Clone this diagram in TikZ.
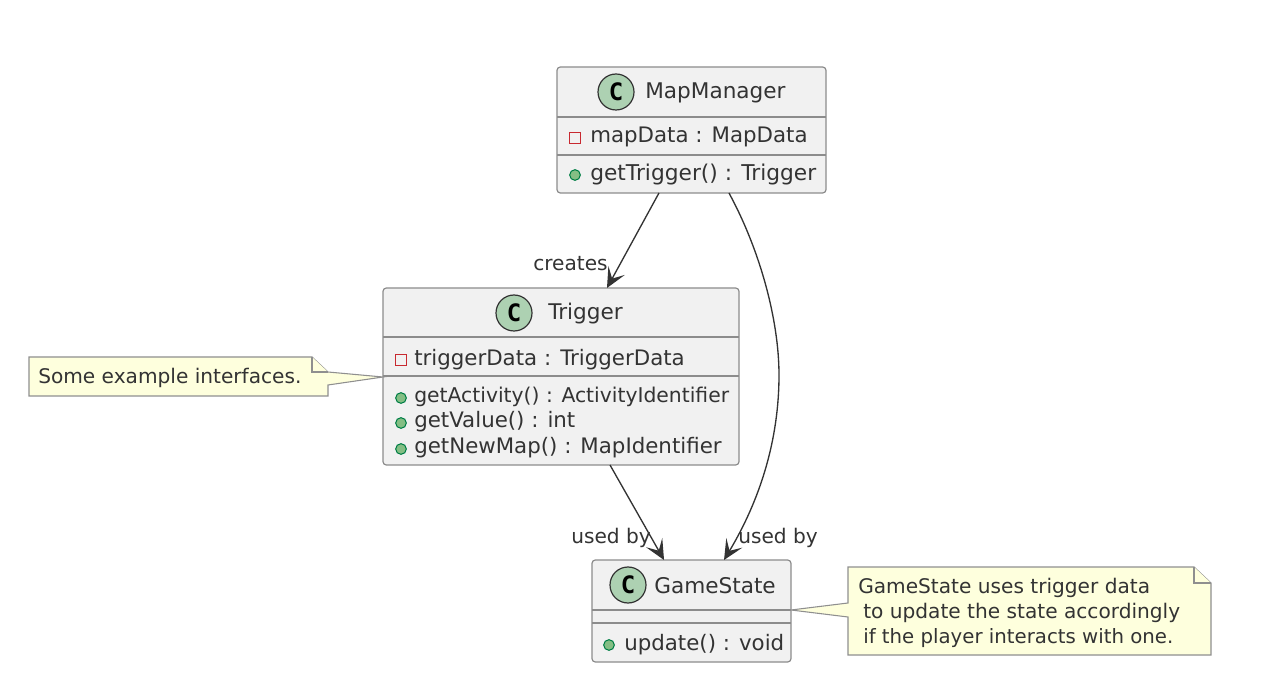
\documentclass[tikz,border=0pt]{standalone}
\usepackage{fontspec}
\setmainfont{DejaVu Sans}
\newfontfamily\spotfont{DejaVu Sans Mono}
\usetikzlibrary{arrows.meta,fit}
\definecolor{boxfill}{HTML}{F1F1F1}
\definecolor{boxline}{HTML}{8C8C8C}
\definecolor{notefill}{HTML}{FEFFDD}
\definecolor{noteline}{HTML}{8F8F8F}
\definecolor{inktext}{HTML}{333333}
\definecolor{spotfill}{HTML}{ADD1B2}
\definecolor{privred}{HTML}{C82930}
\definecolor{pubfill}{HTML}{84BE84}
\definecolor{publine}{HTML}{038048}
\tikzset{
  x=0.75pt,y=-0.75pt,
  classbox/.style={draw=boxline,fill=boxfill,line width=0.9pt,rounded corners=2.5pt,inner sep=0pt,outer sep=0pt},
  compart/.style={draw=boxline,line width=0.9pt},
  spot/.style={circle,draw=inktext,fill=spotfill,line width=0.9pt,minimum size=27pt,inner sep=0pt,font=\fontsize{18}{18}\spotfont\bfseries\selectfont,text=black},
  title/.style={anchor=base west,inner sep=0pt,font=\fontsize{16.2}{16.2}\selectfont,text=inktext},
  member/.style={anchor=base west,inner sep=0pt,font=\fontsize{16}{16}\selectfont,text=inktext},
  narrowmember/.style={member,font=\fontsize{15.25}{15.25}\selectfont},
  notetext/.style={anchor=base west,inner sep=0pt,font=\fontsize{15.1}{15.1}\selectfont,text=inktext},
  edgelabel/.style={anchor=base west,inner sep=0pt,font=\fontsize{15.1}{15.1}\selectfont,text=inktext},
  privmark/.style={draw=privred,line width=1pt,minimum size=8pt,inner sep=0pt},
  pubmark/.style={circle,draw=publine,fill=pubfill,line width=0.8pt,minimum size=8pt,inner sep=0pt},
  notebody/.style={draw=noteline,fill=notefill,line width=0.8pt,line join=miter},
  link/.style={draw=inktext,line width=1pt,-{Stealth[length=15pt,width=14pt,inset=7pt]}},
}
\begin{document}
\begin{tikzpicture}
\useasboundingbox (0,0) rectangle (1268,673);

% MapManager
\node[classbox,fit={(557,67)(826,193)}] (mm) {};
\draw[compart] (557,117) -- (826,117) (557,155) -- (826,155);
\node[spot] (mmspot) at (616,92) {C};
\node[title] (mmtitle) at (645,99) {MapManager};
\node[privmark] (mmp1) at (575,138) {};
\node[member] (mmf1) at (590,143) {mapData : MapData};
\node[pubmark] (mmp2) at (575,175) {};
\node[member,font=\fontsize{16.3}{16.3}\selectfont] (mmm1) at (590,181) {getTrigger() : Trigger};

% Trigger
\node[classbox,fit={(383,288)(739,465)}] (tr) {};
\draw[compart] (383,337) -- (739,337) (383,376) -- (739,376);
\node[spot] (trspot) at (514,313) {C};
\node[title] (trtitle) at (548,320) {Trigger};
\node[privmark] (trp1) at (401,360) {};
\node[member] (trf1) at (414,366) {triggerData : TriggerData};
\node[pubmark] (trp2) at (401,398) {};
\node[narrowmember] (trm1) at (414,403) {getActivity() : ActivityIdentifier};
\node[pubmark] (trp3) at (401,423) {};
\node[member] (trm2) at (414,428) {getValue() : int};
\node[pubmark] (trp4) at (401,449) {};
\node[member] (trm3) at (414,454) {getNewMap() : MapIdentifier};

% GameState
\node[classbox,fit={(592,560)(791,662)}] (gs) {};
\draw[compart] (592,610) -- (791,610) (592,623) -- (791,623);
\node[spot] (gsspot) at (628,585) {C};
\node[title] (gstitle) at (654,593) {GameState};
\node[pubmark] (gsp1) at (609,645) {};
\node[member] (gsm1) at (624,650) {update() : void};

% Note 1
\coordinate (n1tip) at (tr.west |- 0,377);
\draw[notebody] (29,357) -- (312,357) -- (328,372) -- (n1tip) -- (328,385) -- (328,396) -- (29,396) -- cycle;
\draw[notebody] (312,357) -- (312,372) -- (328,372);
\node[notetext] (n1text) at (38,384) {Some example interfaces.};

% Note 2
\coordinate (n2tip) at (gs.east |- 0,610);
\draw[notebody] (848,567) -- (1194,567) -- (1211,583) -- (1211,655) -- (848,655) -- (848,617) -- (n2tip) -- (848,603) -- cycle;
\draw[notebody] (1194,567) -- (1194,583) -- (1211,583);
\node[notetext] (n2a) at (858,593) {GameState uses trigger data};
\node[notetext] (n2b) at (863,618) {to update the state accordingly};
\node[notetext,font=\fontsize{14.8}{14.8}\selectfont] (n2c) at (863,643) {if the player interacts with one.};

% Connectors
\draw[link] ([xshift=-24.4pt]mm.south) -- ([xshift=34.5pt]tr.north);
\draw[link] ([xshift=28.1pt]mm.south) .. controls +(31,57) and (779,320) .. (779,375) .. controls (779,440) and (760,500) .. ([xshift=24.4pt]gs.north);
\draw[link] ([xshift=36.75pt]tr.south) -- ([xshift=-20.6pt]gs.north);

% Edge labels
\node[edgelabel] (l1) at (533,271) {creates};
\node[edgelabel] (l2) at (571,543) {used by};
\node[edgelabel] (l3) at (738,543) {used by};
\end{tikzpicture}
\end{document}
